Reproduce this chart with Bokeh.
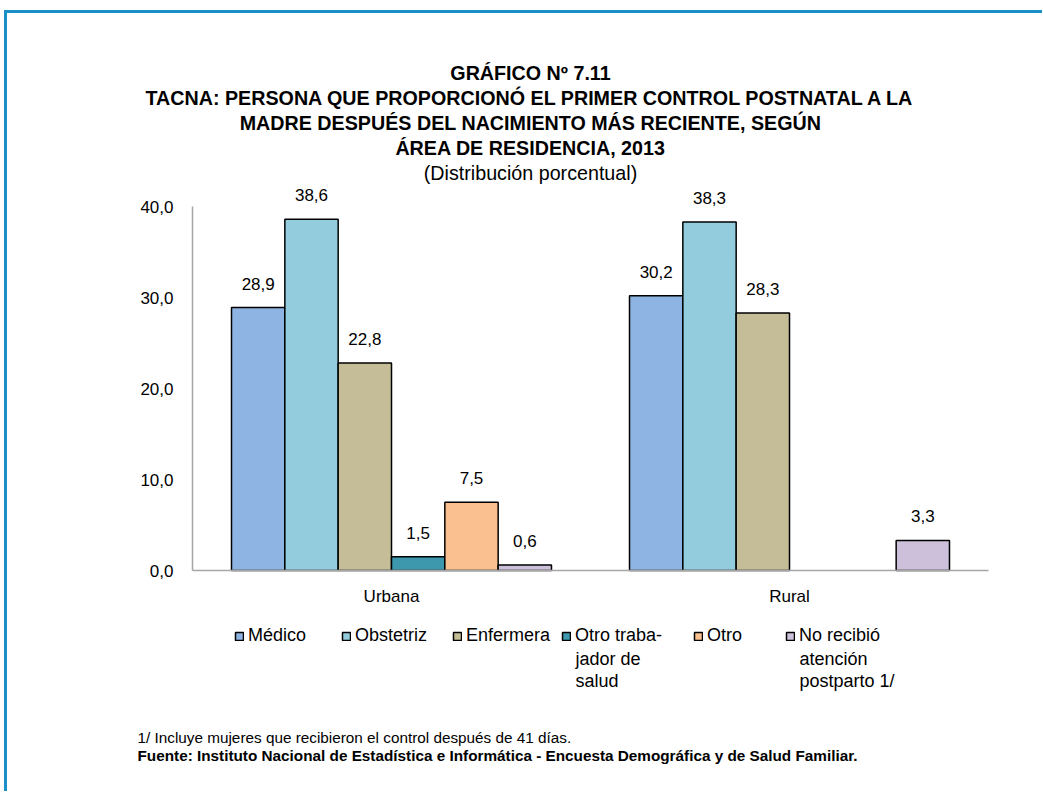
from bokeh.plotting import figure
from bokeh.models import (Range1d, ColumnDataSource, LabelSet, Label,
                          Legend, LegendItem, FixedTicker)
from bokeh.core.properties import value
from bokeh.transform import dodge
from bokeh.layouts import column
from bokeh.embed import file_html
from bokeh.resources import INLINE

# ---------------- data ----------------
areas = ["Urbana", "Rural"]
area_pos = [0.5, 1.5]
series_names = ["Médico", "Obstetriz", "Enfermera", "Otro traba-\njador de\nsalud",
                "Otro", "No recibió\natención\npostparto 1/"]
medico = [28.9, 30.2]
obstetriz = [38.6, 38.3]
enfermera = [22.8, 28.3]
otro_trabajador = [1.5, None]
otro = [7.5, None]
no_recibio = [0.6, 3.3]
series_values = [medico, obstetriz, enfermera, otro_trabajador, otro, no_recibio]
colors = ["#8eb4e3", "#93cddd", "#c4bd97", "#3d97ad", "#fac090", "#ccc0da"]
y_ticks = [0, 10, 20, 30, 40]
y_tick_labels = ["0,0", "10,0", "20,0", "30,0", "40,0"]
title_lines = ["GRÁFICO Nº 7.11",
               "TACNA: PERSONA QUE PROPORCIONÓ EL PRIMER CONTROL POSTNATAL A LA",
               "MADRE DESPUÉS DEL NACIMIENTO MÁS RECIENTE, SEGÚN",
               "ÁREA DE RESIDENCIA, 2013"]
subtitle = "(Distribución porcentual)"
footnote = "1/ Incluye mujeres que recibieron el control después de 41 días."
source_note = ("Fuente: Instituto Nacional de Estadística e Informática - "
               "Encuesta Demográfica y de Salud Familiar.")

FONT = "Liberation Sans"
BORDER = "#1b8fc8"

# ---------------- layout constants (page pixels) ----------------
OX, OY = 7, 13            # canvas origin on the page (margin + css border)
W, H = 1035, 778
ML, MB = 70, 20
F_LEFT, F_RIGHT = OX + ML, OX + W
F_TOP, F_BOTTOM = OY, OY + H - MB
AX_X0, AX_X1 = 192, 988   # axis extent on page
AX_Y0, AX_Y40 = 570, 206
ux = (AX_X1 - AX_X0) / len(areas)
uy = (AX_Y0 - AX_Y40) / 40.0

p = figure(x_range=Range1d((F_LEFT - AX_X0) / ux, (F_RIGHT - AX_X0) / ux),
           y_range=Range1d((AX_Y0 - F_BOTTOM) / uy, (AX_Y0 - F_TOP) / uy),
           width=W, height=H,
           min_border_left=ML, min_border_right=0,
           min_border_top=0, min_border_bottom=MB,
           output_backend="svg", toolbar_location=None)
p.xgrid.visible = False
p.ygrid.visible = False
p.outline_line_color = None
p.background_fill_color = "white"
p.border_fill_color = "white"

# page-pixel helper ranges for text placement
p.extra_x_ranges = {"px": Range1d(F_LEFT, F_RIGHT)}
p.extra_y_ranges = {"py": Range1d(F_BOTTOM, F_TOP)}

# axes
p.yaxis.ticker = FixedTicker(ticks=y_ticks)
p.yaxis.major_label_overrides = {t: l for t, l in zip(y_ticks, y_tick_labels)}
p.yaxis.fixed_location = 0
p.yaxis.bounds = (0, 40)
p.xaxis.ticker = FixedTicker(ticks=[])
p.xaxis.fixed_location = 0
p.xaxis.bounds = (0, len(areas))
p.xaxis.major_label_text_font_size = "0px"
for ax in (p.xaxis, p.yaxis):
    ax.major_tick_out = 0
    ax.major_tick_in = 0
    ax.minor_tick_out = 0
    ax.minor_tick_in = 0
    ax.major_label_standoff = 19
    ax.axis_line_color = "#a6a6a6"
    ax.axis_line_width = 1.5
    ax.major_label_text_font = FONT
    ax.major_label_text_color = "black"
p.yaxis.major_label_text_font_size = "17px"
p.xaxis.major_label_standoff = 0

# category labels
cat_src = ColumnDataSource(dict(pos=area_pos, name=areas, zero=[0] * len(areas)))
p.add_layout(LabelSet(x="pos", y="zero", text="name", source=cat_src,
                      text_align="center", text_baseline="top", y_offset=-16,
                      text_font=value(FONT), text_font_size=value("17px"),
                      text_color="black"))

bar_w = 0.134
n = len(series_names)
renderers = []
for i, (name, vals, col) in enumerate(zip(series_names, series_values, colors)):
    off = (i - (n - 1) / 2) * bar_w
    xs = [a for a, v in zip(area_pos, vals) if v is not None]
    ys = [v for v in vals if v is not None]
    labels = [f"{v:.1f}".replace(".", ",") for v in ys]
    src = ColumnDataSource(dict(area=xs, value=ys, label=labels))
    r = p.vbar(x=dodge("area", off), top="value", width=bar_w,
               source=src, fill_color=col, line_color="black", line_width=1.5)
    renderers.append(r)
    p.add_layout(LabelSet(x=dodge("area", off), y="value", text="label",
                          source=src, text_align="center", text_baseline="bottom",
                          y_offset=18, text_font=value(FONT),
                          text_font_size=value("17px"), text_color="black"))

# legends (one per item to follow the original spacing); wrapped label lines
# continue below the first line as plain labels
legend_x = [234, 341, 452, 561, 693, 785]
LEG_Y, LEG_STEP = 636, 22
for name, r, lx in zip(series_names, renderers, legend_x):
    lines = name.split("\n")
    lg = Legend(items=[LegendItem(label=lines[0], renderers=[r])],
                location=(lx - F_LEFT, F_BOTTOM - LEG_Y - 10), orientation="horizontal",
                glyph_width=10, glyph_height=10, label_standoff=4,
                padding=0, margin=0, spacing=0,
                label_text_font=FONT, label_text_font_size="18px",
                label_text_color="black", label_height=20,
                border_line_alpha=0, background_fill_alpha=0)
    p.add_layout(lg, "center")
    for k, extra in enumerate(lines[1:], start=1):
        p.add_layout(Label(x=lx + 14, y=LEG_Y + LEG_STEP * k,
                           x_range_name="px", y_range_name="py",
                           text=extra, text_align="left", text_baseline="middle",
                           text_font=FONT, text_font_size="18px", text_color="black"))

# titles
for k, line in enumerate(title_lines):
    p.add_layout(Label(x=530, y=72 + 25 * k, x_range_name="px", y_range_name="py",
                       text=line, text_align="center", text_baseline="middle",
                       text_font=FONT, text_font_size="19.7px", text_font_style="bold",
                       text_color="black"))
p.add_layout(Label(x=530, y=172, x_range_name="px", y_range_name="py",
                   text=subtitle, text_align="center", text_baseline="middle",
                   text_font=FONT, text_font_size="19.7px", text_color="black"))

# footnotes
p.add_layout(Label(x=137, y=737, x_range_name="px", y_range_name="py",
                   text=footnote, text_align="left", text_baseline="middle",
                   text_font=FONT, text_font_size="15.3px", text_color="black"))
p.add_layout(Label(x=137, y=755, x_range_name="px", y_range_name="py",
                   text=source_note, text_align="left", text_baseline="middle",
                   text_font=FONT, text_font_size="15.3px", text_font_style="bold",
                   text_color="black"))

layout = column(p, margin=(10, 0, 0, 4),
                styles={"border-top": f"3px solid {BORDER}",
                        "border-left": f"3px solid {BORDER}"})

open("out.html", "w").write(file_html(layout, INLINE))
